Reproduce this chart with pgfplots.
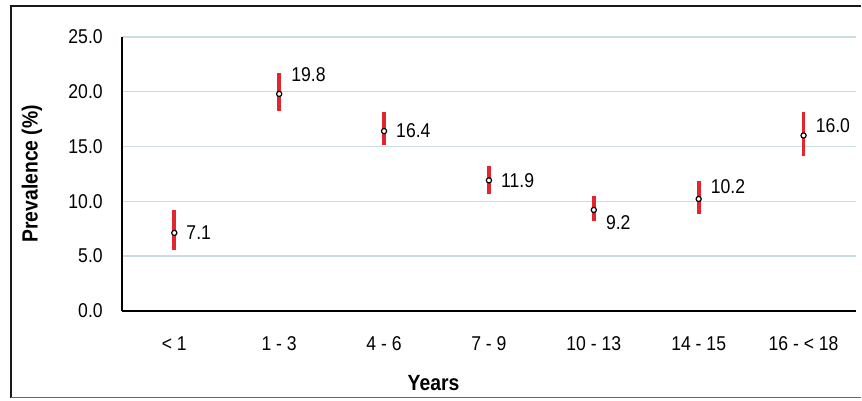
\documentclass[border=0pt]{standalone}
\usepackage{fontspec}
\setmainfont[FakeStretch=0.88]{Liberation Sans}
\usepackage{pgfplots}
\pgfplotsset{compat=1.18}
\usepackage{pgfplotstable}
\definecolor{barred}{HTML}{E3262E}
\definecolor{gridc}{HTML}{C9DDE2}

\pgfplotstableread{
x y ep em dy lab
0 7.1 2.1 1.6 0 7.1
1 19.8 1.9 1.6 19 19.8
2 16.4 1.7 1.3 0 16.4
3 11.9 1.3 1.2 0 11.9
4 9.2 1.3 1.0 -13 9.2
5 10.2 1.6 1.4 12 10.2
6 16.0 2.1 1.9 10 16.0
}\data

\begin{document}
\begin{tikzpicture}[font=\fontsize{20pt}{23pt}\selectfont]
\begin{axis}[
  name=ax,
  scale only axis,
  width=735pt, height=274pt,
  xmin=-0.5, xmax=6.5,
  ymin=0, ymax=25,
  ytick={0,5,10,15,20,25},
  xtick={0,1,2,3,4,5,6},
  xticklabels={{< 1},{1 - 3},{4 - 6},{7 - 9},{10 - 13},{14 - 15},{16 - < 18}},
  major tick length=0pt,
  axis lines*=left,
  axis line style={line width=2pt, black},
  ymajorgrids,
  grid style={gridc, line width=1.2pt},
  /pgf/number format/assume math mode=true,
  yticklabel={\pgfmathprintnumber[fixed,precision=1,zerofill]{\tick}},
  yticklabel style={inner sep=0pt, anchor=east, xshift=-19pt},
  xticklabel style={inner sep=0pt, anchor=north, yshift=-26pt},
  xlabel={\fontsize{22pt}{25pt}\selectfont\bfseries Years},
  ylabel={\fontsize{22pt}{25pt}\selectfont\bfseries Prevalence (\%)},
  xlabel style={at={(axis description cs:0.4245,-0.2646)}, anchor=center, inner sep=0pt},
  ylabel style={at={(axis description cs:-0.1224,0.5)}, anchor=center, inner sep=0pt},
  clip=false,
]
\addplot[
  only marks,
  mark=*,
  mark size=2.6pt,
  mark options={draw=black, fill=white, line width=1.2pt},
  error bars/.cd,
    y dir=both, y explicit,
    error mark=none,
    error bar style={barred, line width=3.8pt},
] table[x=x, y=y, y error plus=ep, y error minus=em] {\data};
\addplot[
  only marks, mark=none,
  point meta=explicit symbolic,
  visualization depends on={\thisrow{dy}\as\dy},
  nodes near coords,
  nodes near coords style={anchor=west, inner sep=0pt, xshift=12pt, yshift=\dy pt, black},
] table[x=x, y=y, meta=lab] {\data};
\end{axis}
\draw[line width=2pt, black!90] ([xshift=5pt,yshift=31pt]ax.north east) -- ([xshift=-111pt,yshift=31pt]ax.north west) -- ([xshift=-111pt,yshift=-87pt]ax.south west);
\draw[line width=1.5pt, black!60] ([xshift=-111pt,yshift=-87pt]ax.south west) -- ([xshift=5pt,yshift=-87pt]ax.south east);
\path ([xshift=-122pt,yshift=-90pt]ax.south west) rectangle ([xshift=5pt,yshift=37pt]ax.north east);
\end{tikzpicture}
\end{document}
